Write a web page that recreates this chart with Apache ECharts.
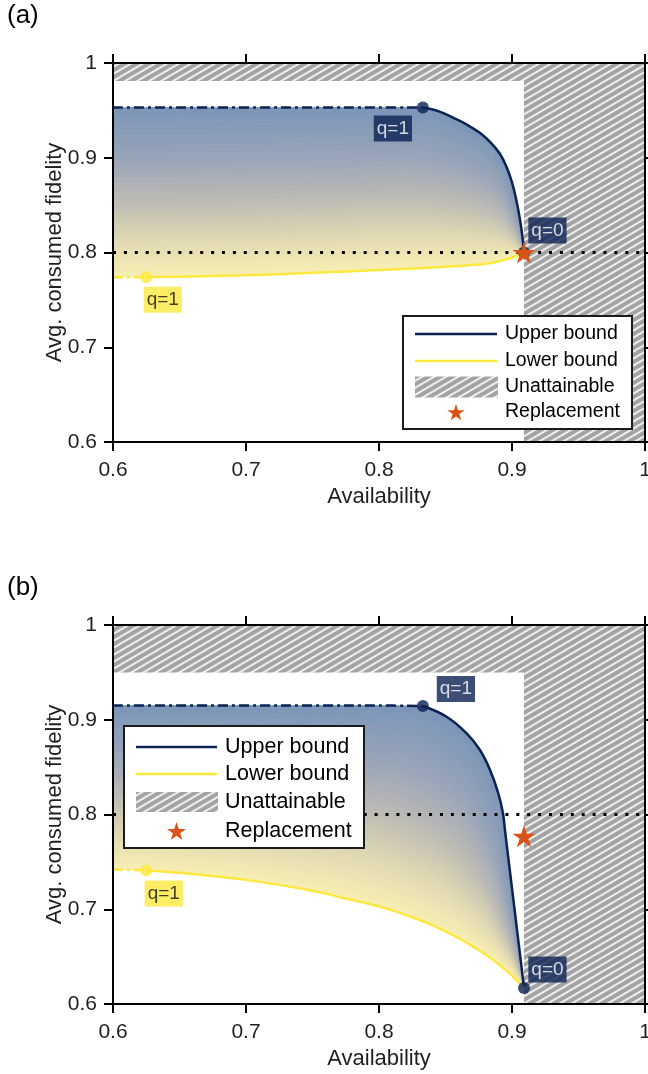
<!DOCTYPE html>
<html>
<head>
<meta charset="utf-8">
<script src="https://cdn.jsdelivr.net/npm/echarts@6/dist/echarts.min.js"></script>
<style>
  html, body { margin: 0; padding: 0; background: #fff; }
  #chart { width: 648px; height: 1074px; }
</style>
</head>
<body>
<div id="chart"></div>
<script>
// ---- data ---------------------------------------------------------------
const axisMin = 0.6;
const axisMax = 1;
const tickStep = 0.1;
const fidelityThreshold = 0.8;

// Panel (a): bounds as [availability, fidelity]; index 5 / 1 is q=1, last is q=0
const upperA = [
  [0.600, 0.953], [0.650, 0.953], [0.700, 0.953], [0.750, 0.953], [0.800, 0.953], [0.833, 0.953],
  [0.845, 0.949], [0.856, 0.942], [0.866, 0.935], [0.876, 0.926], [0.884, 0.916], [0.891, 0.904],
  [0.896, 0.890], [0.900, 0.874], [0.903, 0.857], [0.906, 0.835], [0.908, 0.815], [0.909, 0.800]
];
const lowerA = [
  [0.600, 0.7740], [0.625, 0.7740], [0.650, 0.7745], [0.700, 0.7760], [0.750, 0.7785], [0.800, 0.7815],
  [0.825, 0.7830], [0.845, 0.7845], [0.860, 0.7858], [0.872, 0.7870], [0.880, 0.7882], [0.886, 0.7895],
  [0.891, 0.7910], [0.895, 0.7925], [0.899, 0.7942], [0.903, 0.7960], [0.906, 0.7978], [0.909, 0.8000]
];
const replacementA = [0.909, 0.800];
const unattainableTopA = 0.981;
const unattainableRightA = 0.909;

// Panel (b)
const upperB = [
  [0.600, 0.915], [0.650, 0.915], [0.700, 0.915], [0.750, 0.915], [0.800, 0.915], [0.833, 0.9145],
  [0.8508, 0.9032], [0.8659, 0.8857], [0.8759, 0.8681], [0.8835, 0.8470], [0.8897, 0.8224],
  [0.8932, 0.8013], [0.8950, 0.7800], [0.8972, 0.7545], [0.8994, 0.7290], [0.9016, 0.7035],
  [0.9038, 0.6780], [0.9060, 0.6525], [0.9078, 0.6315], [0.9090, 0.6170]
];
const lowerB = [
  [0.600, 0.742], [0.625, 0.741], [0.650, 0.7385], [0.700, 0.731], [0.750, 0.7195], [0.775, 0.7113],
  [0.800, 0.703], [0.825, 0.6915], [0.840, 0.6833], [0.850, 0.6766], [0.860, 0.6694], [0.868, 0.663],
  [0.876, 0.656], [0.883, 0.6493], [0.889, 0.6431], [0.895, 0.6363], [0.900, 0.630], [0.904, 0.6245],
  [0.907, 0.620], [0.909, 0.617]
];
const replacementB = [0.909, 0.777];
const unattainableTopB = 0.95;
const unattainableRightB = 0.909;

const upperQ1Index = 5;
const lowerQ1Index = 1;

const legendNames = ['Upper bound', 'Lower bound', 'Unattainable', 'Replacement'];

// ---- styles -------------------------------------------------------------
const FONT = '"Liberation Sans", Arial, Helvetica, sans-serif';
const NAVY = '#0b2253';
const YELLOW = '#fde83f';
const ORANGE = '#d95319';
const TEXT = '#1f1f1f';
// shading from the upper bound (0) to the lower bound (1)
const FILL_STOPS = [
  [0, [122, 149, 184]],
  [0.3, [152, 164, 184]],
  [0.55, [187, 186, 180]],
  [0.8, [226, 218, 178]],
  [1, [248, 238, 178]]
];
function shadeAt(t) {
  for (let i = 1; i < FILL_STOPS.length; i++) {
    const [t1, c1] = FILL_STOPS[i];
    const [t0, c0] = FILL_STOPS[i - 1];
    if (t <= t1) {
      const f = (t - t0) / (t1 - t0);
      return 'rgb(' + c0.map((v, k) => Math.round(v + (c1[k] - v) * f)).join(',') + ')';
    }
  }
  return 'rgb(' + FILL_STOPS[FILL_STOPS.length - 1][1].join(',') + ')';
}
const SHADE_BANDS = 60;

// diagonal hatch tile for the unattainable region
function makeHatch() {
  const c = document.createElement('canvas');
  c.width = 12; c.height = 7;
  const g = c.getContext('2d');
  g.fillStyle = '#a3a3a3';
  g.fillRect(0, 0, 12, 7);
  g.strokeStyle = '#ececec';
  g.lineWidth = 2;
  for (const dy of [-7, 0, 7]) {
    g.beginPath();
    g.moveTo(-12, 14 + dy);
    g.lineTo(24, -7 + dy);
    g.stroke();
  }
  return c;
}
const hatchPattern = { image: makeHatch(), repeat: 'repeat' };

function starPoints(cx, cy, R) {
  const pts = [];
  for (let i = 0; i < 10; i++) {
    const r = i % 2 ? R * 0.382 : R;
    const a = -Math.PI / 2 + i * Math.PI / 5;
    pts.push([cx + r * Math.cos(a), cy + r * Math.sin(a)]);
  }
  return pts;
}
const STAR = 'path://M' + starPoints(50, 50, 50).map(p => p[0].toFixed(2) + ',' + p[1].toFixed(2)).join('L') + 'Z';

// ---- axes ---------------------------------------------------------------
function xAxes(gi) {
  const base = {
    type: 'value', gridIndex: gi, min: axisMin, max: axisMax, interval: tickStep, z: 10,
    axisLine: { show: true, onZero: false, lineStyle: { color: '#000', width: 2 } },
    axisTick: { show: true, length: 9, lineStyle: { color: '#000', width: 2 } },
    splitLine: { show: false }
  };
  return [
    Object.assign({}, base, {
      position: 'bottom', name: 'Availability', nameLocation: 'middle', nameGap: 44,
      nameMoveOverlap: false,
      nameTextStyle: { fontSize: 22, color: TEXT, fontFamily: FONT },
      axisLabel: { fontSize: 21, color: TEXT, margin: 18, fontFamily: FONT,
        formatter: v => String(+v.toFixed(1)) }
    }),
    Object.assign({}, base, { position: 'top', axisLabel: { show: false } })
  ];
}
function yAxes(gi) {
  const base = {
    type: 'value', gridIndex: gi, min: axisMin, max: axisMax, interval: tickStep, z: 10,
    axisLine: { show: true, onZero: false, lineStyle: { color: '#000', width: 2 } },
    axisTick: { show: true, length: 9, lineStyle: { color: '#000', width: 2 } },
    splitLine: { show: false }
  };
  return [
    Object.assign({}, base, {
      position: 'left', name: 'Avg. consumed fidelity', nameLocation: 'middle', nameGap: 47,
      nameMoveOverlap: false,
      nameTextStyle: { fontSize: 22, color: TEXT, fontFamily: FONT },
      axisLabel: { fontSize: 21, color: TEXT, margin: 16, fontFamily: FONT,
        formatter: v => String(+v.toFixed(1)) }
    }),
    Object.assign({}, base, { position: 'right', axisLabel: { show: false } })
  ];
}

// ---- series -------------------------------------------------------------
// shaded region between the bounds, drawn as thin bands from upper to lower
function fillRenderer(upper, lower) {
  return function (params, api) {
    const up = upper.map(p => api.coord(p));
    const lo = lower.map(p => api.coord(p));
    const mix = (a, b, t) => [a[0] + (b[0] - a[0]) * t, a[1] + (b[1] - a[1]) * t];
    const children = [];
    for (let k = 0; k < SHADE_BANDS; k++) {
      const t0 = k / SHADE_BANDS, t1 = (k + 1) / SHADE_BANDS;
      const pts = [];
      for (let i = 0; i < up.length; i++) pts.push(mix(up[i], lo[i], t0));
      for (let i = up.length - 1; i >= 0; i--) pts.push(mix(up[i], lo[i], t1));
      const col = shadeAt((t0 + t1) / 2);
      children.push({
        type: 'polygon', shape: { points: pts },
        style: { fill: col, stroke: col, lineWidth: 0.8 }
      });
    }
    return { type: 'group', children };
  };
}

function hatchRenderer(params, api) {
  const a = api.coord([api.value(0), api.value(3)]);
  const b = api.coord([api.value(2), api.value(1)]);
  return {
    type: 'rect',
    shape: { x: a[0], y: a[1], width: b[0] - a[0], height: b[1] - a[1] },
    style: { fill: hatchPattern }
  };
}

function navyLabel(text, offset) {
  return { show: true, position: 'inside', offset, formatter: text, color: '#fff',
    backgroundColor: NAVY, fontSize: 19, fontFamily: FONT, lineHeight: 21, padding: [3, 3, 2, 3] };
}
function yellowLabel(text, offset) {
  return { show: true, position: 'inside', offset, formatter: text, color: '#111',
    backgroundColor: YELLOW, fontSize: 19, fontFamily: FONT, lineHeight: 21, padding: [3, 3, 2, 3] };
}

function panelSeries(gi, upper, lower, replacement, topLimit, rightLimit, offs) {
  const axes = { xAxisIndex: 2 * gi, yAxisIndex: 2 * gi };
  const line = (data, color, type, z) => Object.assign({
    type: 'line', data, symbol: 'none', smooth: 0.4, silent: true, z,
    lineStyle: { color, width: 2.5, type }
  }, axes);
  const last = upper.length - 1;
  return [
    Object.assign({
      type: 'custom', z: 1, silent: true, renderItem: hatchRenderer,
      encode: { x: [0, 2], y: [1, 3] },
      data: [[axisMin, topLimit, axisMax, axisMax], [rightLimit, axisMin, axisMax, axisMax]]
    }, axes),
    Object.assign({
      type: 'custom', z: 2, silent: true, renderItem: fillRenderer(upper, lower),
      encode: { x: 0, y: 1 }, data: [upper[0]]
    }, axes),
    Object.assign({
      type: 'line', z: 3, symbol: 'none', silent: true,
      data: [[axisMin, fidelityThreshold], [axisMax, fidelityThreshold]],
      lineStyle: { color: '#000', width: 3, type: [3, 7.9] }
    }, axes),
    line(upper.slice(0, upperQ1Index + 1), NAVY, [10, 4, 3, 4], 4),
    line(upper.slice(upperQ1Index), NAVY, 'solid', 4),
    line(lower.slice(0, lowerQ1Index + 1), YELLOW, [10, 4, 3, 4], 4),
    line(lower.slice(lowerQ1Index), YELLOW, 'solid', 4),
    Object.assign({
      type: 'scatter', z: 6, symbol: 'circle', symbolSize: 12, silent: true,
      data: [
        { value: upper[upperQ1Index], itemStyle: { color: NAVY }, label: navyLabel('q=1', offs.upperQ1) },
        { value: upper[last], itemStyle: { color: NAVY }, label: navyLabel('q=0', offs.upperQ0) },
        { value: lower[lowerQ1Index], itemStyle: { color: YELLOW }, label: yellowLabel('q=1', offs.lowerQ1) }
      ]
    }, axes),
    Object.assign({
      type: 'scatter', z: 20, symbol: STAR, symbolSize: 23, symbolKeepAspect: true, silent: true,
      itemStyle: { color: ORANGE, opacity: 1 }, data: [replacement]
    }, axes)
  ];
}

// ---- legend (drawn as graphic elements) ---------------------------------
function legendGraphic(box, rowsY, sx0, sx1, textX, fontSize, hatchH, starR) {
  const els = [];
  els.push({ type: 'rect', z: 100, shape: { x: box[0], y: box[1], width: box[2], height: box[3] },
    style: { fill: '#fff', stroke: '#1a1a1a', lineWidth: 2 } });
  els.push({ type: 'line', z: 101, shape: { x1: sx0, y1: rowsY[0], x2: sx1, y2: rowsY[0] },
    style: { stroke: NAVY, lineWidth: 2.6 } });
  els.push({ type: 'line', z: 101, shape: { x1: sx0, y1: rowsY[1], x2: sx1, y2: rowsY[1] },
    style: { stroke: YELLOW, lineWidth: 2.6 } });
  els.push({ type: 'rect', z: 101, shape: { x: sx0, y: rowsY[2] - hatchH / 2, width: sx1 - sx0 + 1, height: hatchH },
    style: { fill: hatchPattern } });
  els.push({ type: 'polygon', z: 101, shape: { points: starPoints((sx0 + sx1) / 2, rowsY[3] + 1, starR) },
    style: { fill: ORANGE } });
  legendNames.forEach((name, i) => {
    els.push({ type: 'text', z: 101, style: { text: name, x: textX, y: rowsY[i],
      font: fontSize + 'px ' + FONT, fill: '#000', verticalAlign: 'middle', align: 'left' } });
  });
  return els;
}

const graphic = [
  { type: 'text', left: 7, top: 3, style: { text: '(a)', font: '26px ' + FONT, fill: '#000' } },
  { type: 'text', left: 7, top: 575, style: { text: '(b)', font: '26px ' + FONT, fill: '#000' } }
]
  .concat(legendGraphic([403, 316, 229, 113], [334, 361, 387, 412], 415, 497, 505, 19.5, 21, 9))
  .concat(legendGraphic([124, 726, 240, 122], [747, 774, 802, 831], 136, 217, 225, 21.5, 20, 10));

const option = {
  animation: false,
  backgroundColor: '#fff',
  textStyle: { fontFamily: FONT },
  grid: [
    { left: 113, top: 63, width: 532, height: 379, outerBoundsMode: 'none', containLabel: false },
    { left: 113, top: 625, width: 532, height: 379, outerBoundsMode: 'none', containLabel: false }
  ],
  xAxis: xAxes(0).concat(xAxes(1)),
  yAxis: yAxes(0).concat(yAxes(1)),
  series: []
    .concat(panelSeries(0, upperA, lowerA, replacementA, unattainableTopA, unattainableRightA,
      { upperQ1: [-30, 21], upperQ0: [23.5, -22], lowerQ1: [16.5, 22.5] }))
    .concat(panelSeries(1, upperB, lowerB, replacementB, unattainableTopB, unattainableRightB,
      { upperQ1: [33, -17], upperQ0: [23.5, -18.5], lowerQ1: [17.5, 23] })),
  graphic
};

const chart = echarts.init(document.getElementById('chart'), null, { renderer: 'canvas' });
chart.setOption(option);
</script>
</body>
</html>
